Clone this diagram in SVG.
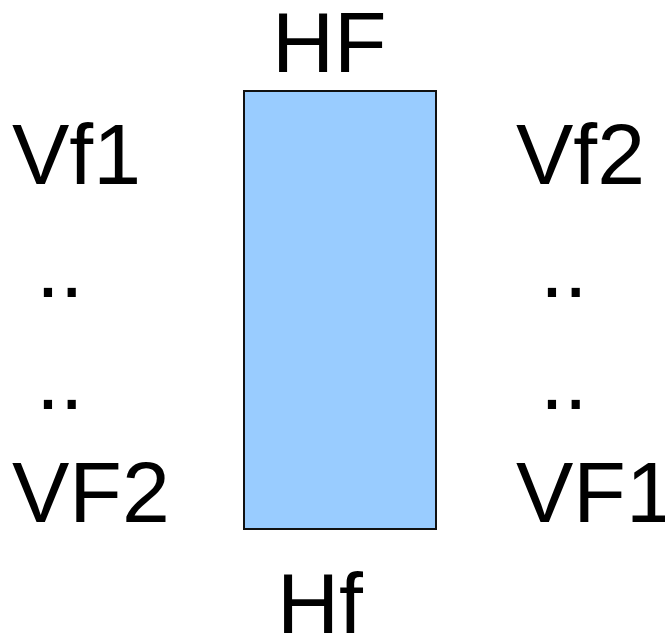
<svg xmlns="http://www.w3.org/2000/svg" width="665" height="635" viewBox="0 0 665 635">
<style>
text{font-family:"Liberation Sans",Arial,sans-serif;font-size:86px;fill:#000}
.box{fill:#99CCFF;stroke:#111;stroke-width:2}
</style>
<rect width="665" height="635" fill="#fff"/>
<g id="box"><rect class="box" x="244" y="91" width="192" height="438"/></g>
<g id="labels">
<text x="272" y="72">HF</text>
<text x="277" y="633">Hf</text>
<text x="12" y="184">Vf1</text>
<text x="12" y="297" xml:space="preserve"> ..</text>
<text x="12" y="409" xml:space="preserve"> ..</text>
<text x="12" y="522">VF2</text>
<text x="516" y="184">Vf2</text>
<text x="516" y="297" xml:space="preserve"> ..</text>
<text x="516" y="409" xml:space="preserve"> ..</text>
<text x="516" y="522">VF1</text>
</g>
<g id="connectors"/>
</svg>
